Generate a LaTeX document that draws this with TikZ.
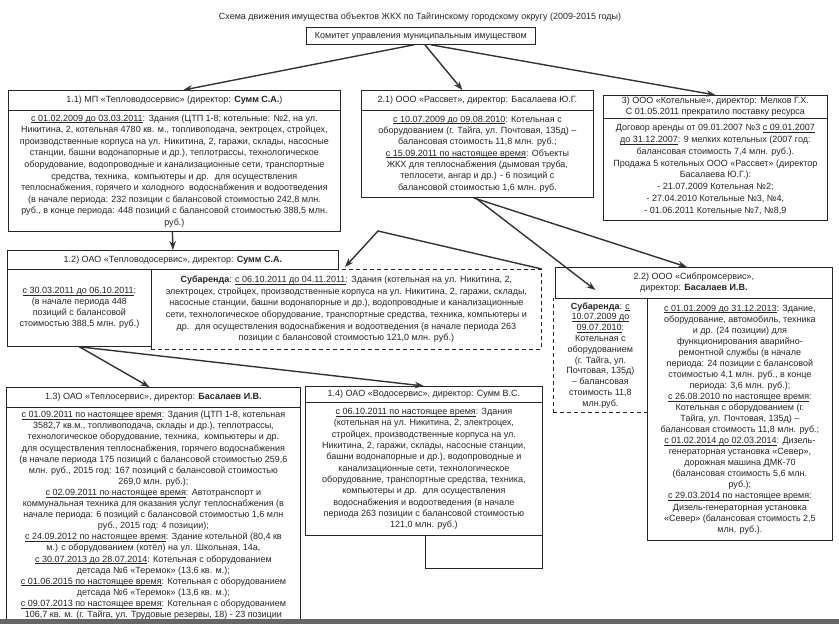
\documentclass[tikz,border=0pt]{standalone}
\usepackage{fontspec}
\setmainfont{Liberation Sans}
\usetikzlibrary{arrows.meta,calc}
\newcommand\fz[1]{\fontsize{9}{#1}\selectfont}
\newcommand\udl[1]{\leavevmode\setbox0\hbox{#1}\rlap{\vrule height -1.1pt depth 1.7pt width \wd0}\box0}
\begin{document}
\begin{tikzpicture}[x=1pt,y=-1pt,
  cell/.style={draw=black!85, line width=0.8pt, inner sep=1pt, align=center, anchor=north west, text=black!85},
  dcell/.style={cell, dash pattern=on 4pt off 3pt},
  txt/.style={align=center, inner sep=0pt, text=black!85},
  arr/.style={draw=black!80, line width=1.4pt, -{Stealth[length=9pt,width=6.5pt]}}]
\useasboundingbox (0,0) rectangle (839,624);
\clip (0,0) rectangle (839,624);
\fill[white] (0,0) rectangle (839,624);

\node[txt, font=\fz{11}] (title) at (420,17) {Схема движения имущества объектов ЖКХ по Тайгинскому городскому округу (2009-2015 годы)};
\node[cell, minimum width=229pt, minimum height=17pt, font=\fz{11}] (com) at (306,27) {Комитет управления муниципальным имуществом};

% 1.1
\node[cell, minimum width=332pt, minimum height=20pt, font=\fz{11}] (h11) at (8,90) {1.1) МП «Тепловодосервис» (директор: \textbf{Сумм С.А.})};
\node[cell, minimum width=332pt, minimum height=121pt, font=\fz{11.6}] (b11) at (8,110) {\udl{с 01.02.2009 до 03.03.2011}: Здания (ЦТП 1-8; котельные: №2, на ул.\\
Никитина, 2, котельная 4780 кв. м., топливоподача, эектроцех, стройцех,\\
производственные корпуса на ул. Никитина, 2, гаражи, склады, насосные\\
станции, башни водонапорные и др.), теплотрассы, технологическое\\
оборудование, водопроводные и канализационные сети, транспортные\\
средства, техника,~ компьютеры и др.~ для осуществления\\
теплоснабжения, горячего и холодного~ водоснабжения и водоотведения\\
(в начале периода: 232 позиции с балансовой стоимостью 242,8 млн.\\
руб., в конце периода: 448 позиций с балансовой стоимостью 388,5 млн.\\
руб.)};

% 2.1
\node[cell, minimum width=232pt, minimum height=20pt, font=\fz{11}] (h21) at (361,90) {2.1) ООО «Рассвет», директор: Басалаева Ю.Г.};
\node[cell, minimum width=232pt, minimum height=87pt, font=\fz{11.3}] (b21) at (361,110) {\udl{с 10.07.2009 до 09.08.2010}: Котельная с\\
оборудованием (г. Тайга, ул. Почтовая, 135д) –\\
балансовая стоимость 11,8 млн. руб.;\\
\udl{с 15.09.2011 по настоящее время}: Объекты\\
ЖКХ для теплоснабжения (дымовая труба,\\
теплосети, ангар и др.) - 6 позиций с\\
балансовой стоимостью 1,6 млн. руб.};

% 3
\node[cell, minimum width=224pt, minimum height=23pt, font=\fz{11}] (h3) at (603,95) {3) ООО «Котельные», директор: Мелков Г.Х.\\
С 01.05.2011 прекратило поставку ресурса};
\node[cell, minimum width=224pt, minimum height=102pt, font=\fz{11.8}] (b3) at (603,118) {Договор аренды от 09.01.2007 №3 \udl{с 09.01.2007}\\
\udl{до 31.12.2007}: 9 мелких котельных (2007 год:\\
балансовая стоимость 7,4 млн. руб.).\\
Продажа 5 котельных ООО «Рассвет» (директор\\
Басалаева Ю.Г.):\\
- 21.07.2009 Котельная №2;\\
- 27.04.2010 Котельные №3, №4,\\
- 01.06.2011 Котельные №7, №8,9};

% 1.2
\node[dcell, minimum width=390pt, minimum height=80pt, font=\fz{11.6}] (sub12) at (151,269) {\textbf{Субаренда}: \udl{с 06.10.2011 до 04.11.2011}: Здания (котельная на ул. Никитина, 2,\\
электроцех, стройцех, производственные корпуса на ул. Никитина, 2, гаражи, склады,\\
насосные станции, башни водонапорные и др.), водопроводные и канализационные\\
сети, технологическое оборудование, транспортные средства, техника, компьютеры и\\
др.~ для осуществления водоснабжения и водоотведения (в начале периода 263\\
позиции с балансовой стоимостью 121,0 млн. руб.)};
\node[cell, minimum width=331pt, minimum height=19pt, font=\fz{11}] (h12) at (7,250) {1.2) ОАО «Тепловодосервис», директор: \textbf{Сумм С.А.}};
\node[cell, minimum width=144pt, minimum height=77pt, font=\fz{11}] (b12) at (7,269) {\udl{с 30.03.2011 до 06.10.2011}:\\
(в начале периода 448\\
позиций с балансовой\\
стоимостью 388,5 млн. руб.)};

% 2.2
\node[dcell, minimum width=94pt, minimum height=114pt, font=\fz{10.8}] (sub22) at (553,298) {\textbf{Субаренда}: \udl{с}\\
\udl{10.07.2009 до}\\
\udl{09.07.2010}:\\
Котельная с\\
оборудованием\\
(г. Тайга, ул.\\
Почтовая, 135д)\\
– балансовая\\
стоимость 11,8\\
млн.руб.};
\node[cell, minimum width=277pt, minimum height=31pt, font=\fz{11}] (h22) at (555,267) {2.2) ООО «Сибпромсервис»,\\
директор: \textbf{Басалаев И.В.}};
\node[cell, minimum width=185pt, minimum height=242pt, font=\fz{11.05}] (b22) at (647,298) {\udl{с 01.01.2009 до 31.12.2013}: Здание,\\
оборудование, автомобиль, техника\\
и др. (24 позиции) для\\
функционирования аварийно-\\
ремонтной службы (в начале\\
периода: 24 позиции с балансовой\\
стоимостью 4,1 млн. руб., в конце\\
периода: 3,6 млн. руб.);\\
\udl{с 26.08.2010 по настоящее время}:\\
Котельная с оборудованием (г.\\
Тайга, ул. Почтовая, 135д) –\\
балансовая стоимость 11,8 млн. руб.;\\
\udl{с 01.02.2014 до 02.03.2014}: Дизель-\\
генераторная установка «Север»,\\
дорожная машина ДМК-70\\
(балансовая стоимость 5,6 млн.\\
руб.);\\
\udl{с 29.03.2014 по настоящее время}:\\
Дизель-генераторная установка\\
«Север» (балансовая стоимость 2,5\\
млн. руб.).};

% 1.3
\node[cell, minimum width=294pt, minimum height=20pt, font=\fz{11}] (h13) at (6,387) {1.3) ОАО «Теплосервис», директор: \textbf{Басалаев И.В.}};
\node[cell, minimum width=294pt, minimum height=230pt] (b13) at (6,407) {};
\node[txt, anchor=north, font=\fz{11.1}] (t13) at ($(b13.north)+(0,4)$) {\udl{с 01.09.2011 по настоящее время}: Здания (ЦТП 1-8, котельная\\
3582,7 кв.м., топливоподача, склады и др.), теплотрассы,\\
технологическое оборудование, техника,~ компьютеры и др.\\
для осуществления теплоснабжения, горячего водоснабжения\\
(в начале периода 175 позиций с балансовой стоимостью 259,6\\
млн. руб., 2015 год: 167 позиций с балансовой стоимостью\\
269,0 млн. руб.);\\
\udl{с 02.09.2011 по настоящее время}: Автотранспорт и\\
коммунальная техника для оказания услуг теплоснабжения (в\\
начале периода: 6 позиций с балансовой стоимостью 1,6 млн\\
руб., 2015 год: 4 позиции);\\
\udl{с 24.09.2012 по настоящее время}: Здание котельной (80,4 кв\\
м.) с оборудованием (котёл) на ул. Школьная, 14а,\\
\udl{с 30.07.2013 до 28.07.2014}: Котельная с оборудованием\\
детсада №6 «Теремок» (13,6 кв. м.);\\
\udl{с 01.06.2015 по настоящее время}: Котельная с оборудованием\\
детсада №6 «Теремок» (13,6 кв. м.);\\
\udl{с 09.07.2013 по настоящее время}: Котельная с оборудованием\\
106,7 кв. м. (г. Тайга, ул. Трудовые резервы, 18) - 23 позиции};

% 1.4
\node[cell, minimum width=237pt, minimum height=16pt, font=\fz{11}] (h14) at (305,386) {1.4) ОАО «Водосервис», директор: Сумм В.С.};
\node[cell, minimum width=237pt, minimum height=133pt, font=\fz{11.3}] (b14) at (305,402) {\udl{с 06.10.2011 по настоящее время}: Здания\\
(котельная на ул. Никитина, 2, электроцех,\\
стройцех, производственные корпуса на ул.\\
Никитина, 2, гаражи, склады, насосные станции,\\
башни водонапорные и др.), водопроводные и\\
канализационные сети, технологическое\\
оборудование, транспортные средства, техника,\\
компьютеры и др.~ для осуществления\\
водоснабжения и водоотведения (в начале\\
периода 263 позиции с балансовой стоимостью\\
121,0 млн. руб.)};
\node[cell, minimum width=117pt, minimum height=33pt] (ext14) at (425,535) {};

% scan edge
\fill[black!60] (0,619) rectangle (839,624);

% connectors
\coordinate (bend) at (378,231);
\draw[arr] ($(com.south)+(-7,0)$) -- ($(h11.north)+(9,0)$);
\draw[arr] ($(com.south)+(4,0)$) -- ($(h21.north)+(-15,0)$);
\draw[arr] ($(com.south)+(10,0)$) -- (h3.north);
\draw[arr] ($(b11.south)+(-2,0)$) -- ($(h12.north)+(0,0)$);
\draw[arr] (sub12.north east) -- (bend) -- ($(sub12.north west)+(194,-2)$);
\draw[arr] ($(b21.south)+(-4,0)$) -- ($(h22.north)+(-7,0)$);
\draw[arr] ($(b21.south)+(-2,0)$) -- ($(sub22.north)+(-5,-8)$);
\draw[arr] (b12.south) -- ($(h13.north)+(-4,0)$);
\draw[arr] (b12.south) -- ($(h14.north)+(0,0)$);
\end{tikzpicture}
\end{document}
